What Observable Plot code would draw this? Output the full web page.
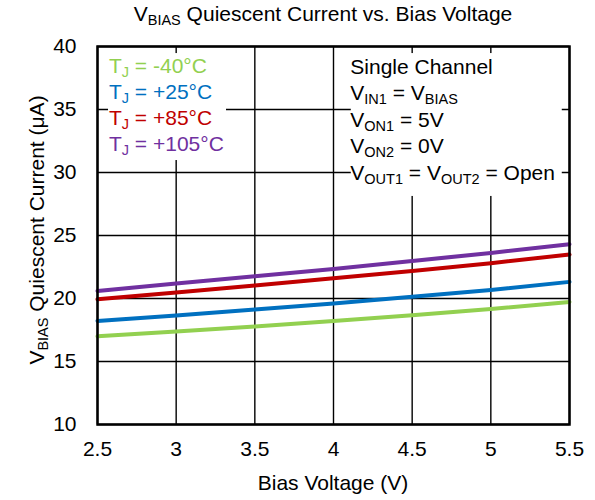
<!DOCTYPE html>
<html><head><meta charset="utf-8">
<script src="https://cdn.jsdelivr.net/npm/d3@7"></script>
<script src="https://cdn.jsdelivr.net/npm/@observablehq/plot@0.6"></script>
<style>
body{margin:0;background:#fff;}
#chart svg{display:block;}
</style>
</head><body><div id="chart"></div>
<script>
// ---- data ----
const biasVoltage = [2.5, 3, 3.5, 4, 4.5, 5, 5.5];
const iqMinus40 = [17.0, 17.38, 17.78, 18.22, 18.67, 19.17, 19.73];
const iqPlus25 = [18.22, 18.65, 19.13, 19.6, 20.13, 20.68, 21.32];
const iqPlus85 = [19.94, 20.47, 21.03, 21.61, 22.19, 22.8, 23.49];
const iqPlus105 = [20.6, 21.19, 21.77, 22.35, 22.98, 23.62, 24.31];
const seriesKeys = ["-40°C", "+25°C", "+85°C", "+105°C"];
const seriesColors = ["#92d050", "#0070c0", "#c00000", "#7030a0"];
const xTicks = [2.5, 3, 3.5, 4, 4.5, 5, 5.5];
const yTicks = [10, 15, 20, 25, 30, 35, 40];
const conditionLines = [
  [["Single Channel"]],
  [["V"], ["IN1", 1], [" = V"], ["BIAS", 1]],
  [["V"], ["ON1", 1], [" = 5V"]],
  [["V"], ["ON2", 1], [" = 0V"]],
  [["V"], ["OUT1", 1], [" = V"], ["OUT2", 1], [" = Open"]]
];

// ---- build table ----
const allValues = [iqMinus40, iqPlus25, iqPlus85, iqPlus105];
const rows = [];
seriesKeys.forEach((k, s) => biasVoltage.forEach((v, i) => rows.push({v, iq: allValues[s][i], key: k})));

const FONT = "'Liberation Sans', Arial, sans-serif";
const FS = 21, SUB = 14.5, SHIFT = 4;

function addParts(textSel, parts) {
  let shifted = false;
  parts.forEach(([t, sub]) => {
    const ts = textSel.append("tspan").text(t);
    if (sub && !shifted) { ts.attr("font-size", SUB).attr("dy", SHIFT); shifted = true; }
    else if (!sub && shifted) { ts.attr("dy", -SHIFT); shifted = false; }
  });
}

// rich text mark positioned through scales
function richText(lines, {x, y, step, colors}) {
  return (index, scales) => {
    const g = d3.create("svg:g").attr("font-family", FONT).attr("font-size", FS).attr("text-anchor", "start");
    lines.forEach((parts, i) => {
      const t = g.append("text")
        .attr("x", scales.x(x))
        .attr("y", scales.y(y) + i * step)
        .attr("text-anchor", "start")
        .attr("fill", colors ? colors[i] : "black");
      addParts(t, parts);
    });
    return g.node();
  };
}

const legendLines = seriesKeys.map(k => [["T"], ["J", 1], [" = " + k]]);

function titles(index, scales, values, dims) {
  const g = d3.create("svg:g").attr("font-family", FONT).attr("font-size", FS).attr("fill", "black");
  const cx = (dims.marginLeft + dims.width - dims.marginRight) / 2;
  const t = g.append("text").attr("x", cx - 10).attr("y", 21).attr("text-anchor", "middle");
  addParts(t, [["V"], ["BIAS", 1], [" Quiescent Current vs. Bias Voltage"]]);
  const xl = g.append("text").attr("x", cx).attr("y", dims.height - 10).attr("text-anchor", "middle");
  addParts(xl, [["Bias Voltage (V)"]]);
  const cy = (dims.marginTop + dims.height - dims.marginBottom) / 2 - 5;
  const yl = g.append("text").attr("text-anchor", "middle").attr("transform", `translate(44,${cy}) rotate(-90)`);
  addParts(yl, [["V"], ["BIAS", 1], [" Quiescent Current (μA)"]]);
  return g.node();
}

const boxes = [
  {x1: 2.57, x2: 3.32, y1: 39.44, y2: 30.95},
  {x1: 4.113, x2: 5.454, y1: 39.44, y2: 28.1}
];

const chart = Plot.plot({
  width: 595,
  height: 500,
  marginLeft: 97,
  marginRight: 26,
  marginTop: 46,
  marginBottom: 76,
  style: {fontFamily: FONT, fontSize: FS + "px", color: "black", background: "white"},
  x: {domain: [2.5, 5.5], ticks: xTicks, label: null},
  y: {domain: [10, 40], ticks: yTicks, label: null},
  color: {domain: seriesKeys, range: seriesColors},
  marks: [
    Plot.gridX(xTicks, {stroke: "black", strokeOpacity: 1, strokeWidth: 1.4}),
    Plot.gridY(yTicks, {stroke: "black", strokeOpacity: 1, strokeWidth: 1.4}),
    Plot.rect(boxes, {x1: "x1", x2: "x2", y1: "y1", y2: "y2", fill: "white"}),
    Plot.line(rows, {x: "v", y: "iq", z: "key", stroke: "key", strokeWidth: 4}),
    Plot.axisX(xTicks, {tickSize: 0, tickPadding: 17, fontSize: FS, tickFormat: d => String(d), label: null}),
    Plot.axisY(yTicks, {tickSize: 0, tickPadding: 21, fontSize: FS, tickFormat: d => String(d), label: null}),
    Plot.frame({stroke: "black", strokeWidth: 2.5}),
    richText(legendLines, {x: 2.576, y: 37.82, step: 26, colors: seriesColors}),
    richText(conditionLines, {x: 4.11, y: 37.78, step: 26.5}),
    titles
  ]
});
document.getElementById("chart").appendChild(chart);
</script>
</body></html>
